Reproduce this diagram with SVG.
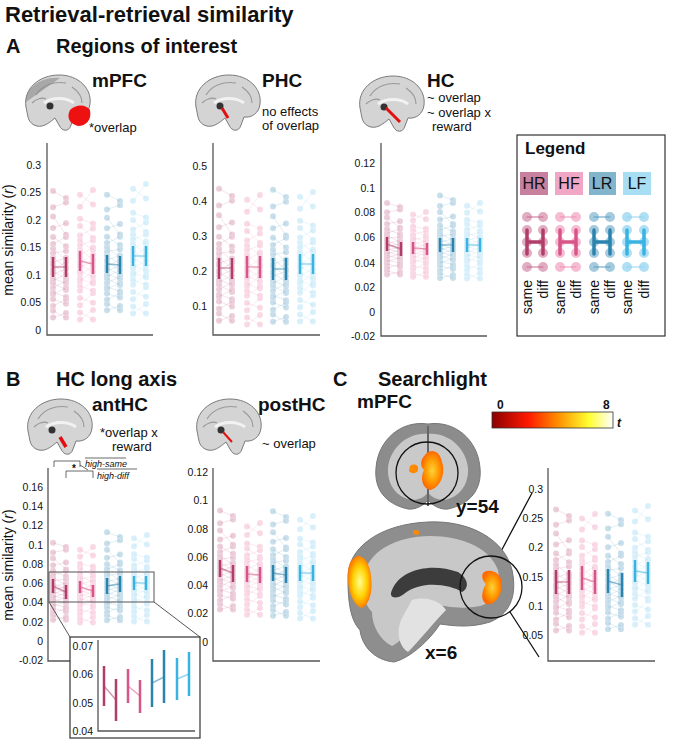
<svg xmlns="http://www.w3.org/2000/svg" xmlns:xlink="http://www.w3.org/1999/xlink" width="676" height="748" viewBox="0 0 676 748">
<style>
text{font-family:"Liberation Sans",Arial,sans-serif;fill:#111}
.h{font-weight:bold}
.tk{font-size:10.5px;fill:#444;text-anchor:end}
.ax{fill:none;stroke:#555;stroke-width:1.3}
.dt{fill:none;stroke:currentColor;stroke-width:6;stroke-linecap:round;stroke-opacity:.33;vector-effect:non-scaling-stroke}
.ln{fill:none;stroke:currentColor;stroke-width:.6;stroke-opacity:.3;vector-effect:non-scaling-stroke}
.eb{fill:none;stroke-width:2.5}
.cb{fill:none;stroke-width:1.4;stroke-opacity:.55}
.hr{color:#c86a91;stroke:#b03e69}.hf{color:#ee8fb4;stroke:#d8558a}.lr{color:#5b9ec2;stroke:#2a84ad}.lf{color:#8ed2f0;stroke:#39b4e2}
.br{fill:#d4d4d4;stroke:#7a7a7a;stroke-width:1}
.an{font-size:13px}
</style>
<defs>
<g id="pA"><path class="ln" d="M0-33L13-30M0-26L13-28M0-22L13-14M0-17L13-19M0-13L13-9M0-10L13-13M0-8L13-3M0-6L13-7M0-4L13 0M0-2L13-4M0-1L13 3M0 1L13-2M0 2L13 5M0 3L13 1M0 5L13 7M0 6L13 3M0 7L13 10M0 9L13 6M0 11L13 13M0 12L13 9M0 14L13 16M0 17L13 14M0 19L13 22M0 22L13 20"/><path class="dt" d="M0-33h0M13-30h0M0-26h0M13-28h0M0-22h0M13-14h0M0-17h0M13-19h0M0-13h0M13-9h0M0-10h0M13-13h0M0-8h0M13-3h0M0-6h0M13-7h0M0-4h0M13 0h0M0-2h0M13-4h0M0-1h0M13 3h0M0 1h0M13-2h0M0 2h0M13 5h0M0 3h0M13 1h0M0 5h0M13 7h0M0 6h0M13 3h0M0 7h0M13 10h0M0 9h0M13 6h0M0 11h0M13 13h0M0 12h0M13 9h0M0 14h0M13 16h0M0 17h0M13 14h0M0 19h0M13 22h0M0 22h0M13 20h0"/></g>
<g id="pB"><path class="ln" d="M0-28L13-24M0-23L13-30M0-18L13-16M0-15L13-10M0-11L13-14M0-9L13-5M0-7L13-9M0-5L13-1M0-3L13-6M0-2L13 2M0 0L13-3M0 1L13 4M0 2L13 0M0 4L13 6M0 5L13 2M0 7L13 9M0 8L13 4M0 10L13 12M0 12L13 8M0 15L13 17M0 18L13 13M0 21L13 24M0 24L13 20"/><path class="dt" d="M0-28h0M13-24h0M0-23h0M13-30h0M0-18h0M13-16h0M0-15h0M13-10h0M0-11h0M13-14h0M0-9h0M13-5h0M0-7h0M13-9h0M0-5h0M13-1h0M0-3h0M13-6h0M0-2h0M13 2h0M0 0h0M13-3h0M0 1h0M13 4h0M0 2h0M13 0h0M0 4h0M13 6h0M0 5h0M13 2h0M0 7h0M13 9h0M0 8h0M13 4h0M0 10h0M13 12h0M0 12h0M13 8h0M0 15h0M13 17h0M0 18h0M13 13h0M0 21h0M13 24h0M0 24h0M13 20h0"/></g>
<g id="brain"><path class="br" d="M4 34C1 16 17 2 37 2C57 2 70 16 68 31C67 40 60 45 52 44L49 52C47 59 40 59 37 52L33 45C27 50 20 56 12 52C5 48 6 42 4 34Z"/><path d="M14 22C20 12 32 8 44 10M10 30C14 26 20 24 24 26M50 14C56 18 60 24 60 30" fill="none" stroke="#999" stroke-width="1.2"/><path d="M22 30C30 24 44 24 52 30" fill="none" stroke="#f2f2f2" stroke-width="3"/><circle cx="28" cy="33" r="3.5" fill="#333"/></g>
<linearGradient id="hot" x1="0" x2="1"><stop offset="0" stop-color="#8b0000"/><stop offset=".3" stop-color="#ff1a00"/><stop offset=".55" stop-color="#ff9000"/><stop offset=".8" stop-color="#ffff30"/><stop offset="1" stop-color="#ffffff"/></linearGradient>
<radialGradient id="blob"><stop offset="0" stop-color="#ffd23a"/><stop offset=".6" stop-color="#ff9a00"/><stop offset="1" stop-color="#ff6a00"/></radialGradient>
<radialGradient id="blobY"><stop offset="0" stop-color="#ffff90"/><stop offset=".6" stop-color="#ffd000"/><stop offset="1" stop-color="#ff8000"/></radialGradient>
</defs>

<g id="titles">
<text x="5" y="22" class="h" font-size="22">Retrieval-retrieval similarity</text>
<text x="6" y="53" class="h" font-size="20">A</text><text x="56" y="53" class="h" font-size="20">Regions of interest</text>
<text x="6" y="386" class="h" font-size="20">B</text><text x="56" y="386" class="h" font-size="20">HC long axis</text>
<text x="333" y="386" class="h" font-size="20">C</text><text x="378" y="386" class="h" font-size="20">Searchlight</text>
</g>

<g id="roi-mPFC">
<use href="#brain" x="22" y="73"/>
<path d="M26 102C24 90 40 76 60 78" fill="#8a8a8a" opacity=".6"/>
<path d="M70 110C76 104 86 104 90 110C92 120 86 126 78 126C70 124 66 118 70 110Z" fill="#ee1111"/>
<text x="92" y="87" class="h" font-size="19">mPFC</text>
<text x="89" y="132" class="an">*overlap</text>
</g>
<g id="roi-PHC">
<use href="#brain" x="192" y="73"/>
<path d="M222 108L228 118" stroke="#e01010" stroke-width="3"/>
<text x="262" y="87" class="h" font-size="19">PHC</text>
<text x="262" y="116" class="an">no effects</text><text x="262" y="130" class="an">of overlap</text>
</g>
<g id="roi-HC">
<use href="#brain" x="356" y="74"/>
<path d="M386 108L400 122" stroke="#e01010" stroke-width="3"/>
<text x="427" y="87" class="h" font-size="19">HC</text>
<text x="427" y="102" class="an">~ overlap</text><text x="427" y="117" class="an">~ overlap x</text><text x="432" y="131" class="an">reward</text>
</g>

<g id="plot-A1">
<path class="ax" d="M47 143V335H153"/>
<g class="tk"><text x="41" y="169">0.3</text><text x="41" y="196">0.25</text><text x="41" y="224">0.2</text><text x="41" y="251">0.15</text><text x="41" y="279">0.1</text><text x="41" y="306">0.05</text><text x="41" y="334">0</text></g>
<use href="#pA" class="hr" transform="translate(53,267) scale(1,2.3)"/>
<use href="#pB" class="hf" transform="translate(80,262) scale(1,2.4)"/>
<use href="#pA" class="lr" transform="translate(107,264) scale(1,2.1)"/>
<use href="#pB" class="lf" transform="translate(133,256) scale(1,2.4)"/>
<path class="eb hr" d="M53 257V277M66 257V277"/><path class="cb hr" d="M53 267H66"/>
<path class="eb hf" d="M80 251V271M93 254V274"/><path class="cb hf" d="M80 261L93 264"/>
<path class="eb lr" d="M107 255V273M120 256V274"/><path class="cb lr" d="M107 264L120 265"/>
<path class="eb lf" d="M133 246V266M146 246V266"/><path class="cb lf" d="M133 256H146"/>
</g>
<text transform="translate(13,240) rotate(-90)" text-anchor="middle" font-size="14">mean similarity (<tspan font-style="italic">r</tspan>)</text>

<g id="plot-A2">
<path class="ax" d="M213 143V335H320"/>
<g class="tk"><text x="207" y="170">0.5</text><text x="207" y="205">0.4</text><text x="207" y="240">0.3</text><text x="207" y="275">0.2</text><text x="207" y="310">0.1</text></g>
<use href="#pA" class="hr" transform="translate(219,268) scale(1,2.4)"/>
<use href="#pB" class="hf" transform="translate(247,267) scale(1,2.4)"/>
<use href="#pA" class="lr" transform="translate(273,269) scale(1,2.4)"/>
<use href="#pB" class="lf" transform="translate(300,264) scale(1,2.4)"/>
<path class="eb hr" d="M219 258V279M232 258V279"/><path class="cb hr" d="M219 268H232"/>
<path class="eb hf" d="M247 256V278M260 256V278"/><path class="cb hf" d="M247 267H260"/>
<path class="eb lr" d="M273 258V280M286 258V280"/><path class="cb lr" d="M273 269H286"/>
<path class="eb lf" d="M300 254V274M313 254V274"/><path class="cb lf" d="M300 264H313"/>
</g>

<g id="plot-A3">
<path class="ax" d="M381 143V336H487"/>
<g class="tk"><text x="375" y="167">0.12</text><text x="375" y="192">0.1</text><text x="375" y="216">0.08</text><text x="375" y="241">0.06</text><text x="375" y="267">0.04</text><text x="375" y="291">0.02</text><text x="375" y="316">0</text><text x="375" y="340">-0.02</text></g>
<use href="#pA" class="hr" transform="translate(387,246) scale(1,1.3)"/>
<use href="#pB" class="hf" transform="translate(413,248) scale(1,1.2)"/>
<use href="#pA" class="lr" transform="translate(440,245) scale(1,1.5)"/>
<use href="#pB" class="lf" transform="translate(467,245) scale(1,1.4)"/>
<path class="eb hr" d="M387 237V251M401 242V256"/><path class="cb hr" d="M387 244L401 249"/>
<path class="eb hf" d="M413 242V254M427 243V255"/><path class="cb hf" d="M413 248L427 249"/>
<path class="eb lr" d="M440 238V252M453 238V252"/><path class="cb lr" d="M440 245H453"/>
<path class="eb lf" d="M467 238V252M480 238V252"/><path class="cb lf" d="M467 245H480"/>
</g>

<g id="legend">
<rect x="517" y="135" width="148" height="201" fill="#fff" stroke="#333" stroke-width="1.2"/>
<text x="525" y="154" class="h" font-size="17">Legend</text>
<rect x="520" y="172" width="28" height="23" fill="#c8809f"/><text x="534" y="189" text-anchor="middle" font-size="16">HR</text>
<rect x="555" y="172" width="28" height="23" fill="#f0a6c5"/><text x="569" y="189" text-anchor="middle" font-size="16">HF</text>
<rect x="589" y="172" width="27" height="23" fill="#82b4cb"/><text x="602" y="189" text-anchor="middle" font-size="16">LR</text>
<rect x="623" y="172" width="28" height="23" fill="#a8def4"/><text x="637" y="189" text-anchor="middle" font-size="16">LF</text>
<g stroke-linecap="round" fill="none">
<g class="hr"><path d="M527 217h0M543 217h0M527 230h0M543 230h0M527 242h0M543 242h0M527 253h0M543 253h0M527 267h0M543 267h0" stroke="#c86a91" stroke-opacity=".55" stroke-width="10"/><path d="M527 217H543M527 267H543" stroke="#c86a91" stroke-width="1"/><path d="M527 230V254M543 230V254M527 242H543" stroke-width="3.5"/></g>
<g class="hf"><path d="M560 217h0M576 217h0M560 230h0M576 230h0M560 242h0M576 242h0M560 253h0M576 253h0M560 267h0M576 267h0" stroke="#ee8fb4" stroke-opacity=".6" stroke-width="10"/><path d="M560 217H576M560 267H576" stroke="#ee8fb4" stroke-width="1"/><path d="M560 230V254M576 230V254M560 242H576" stroke-width="3.5"/></g>
<g class="lr"><path d="M594 217h0M610 217h0M594 230h0M610 230h0M594 242h0M610 242h0M594 253h0M610 253h0M594 267h0M610 267h0" stroke="#5b9ec2" stroke-opacity=".55" stroke-width="10"/><path d="M594 217H610M594 267H610" stroke="#5b9ec2" stroke-width="1"/><path d="M594 230V254M610 230V254M594 242H610" stroke-width="3.5"/></g>
<g class="lf"><path d="M627 217h0M644 217h0M627 230h0M644 230h0M627 242h0M644 242h0M627 253h0M644 253h0M627 267h0M644 267h0" stroke="#8ed2f0" stroke-opacity=".7" stroke-width="10"/><path d="M627 217H644M627 267H644" stroke="#8ed2f0" stroke-width="1"/><path d="M627 230V254M644 230V254M627 242H644" stroke-width="3.5"/></g>
</g>
<g font-size="14" text-anchor="end">
<text transform="translate(532,280) rotate(-90)">same</text><text transform="translate(548,280) rotate(-90)">diff</text>
<text transform="translate(565,280) rotate(-90)">same</text><text transform="translate(581,280) rotate(-90)">diff</text>
<text transform="translate(599,280) rotate(-90)">same</text><text transform="translate(615,280) rotate(-90)">diff</text>
<text transform="translate(632,280) rotate(-90)">same</text><text transform="translate(649,280) rotate(-90)">diff</text>
</g>
</g>

<g id="roi-antHC">
<use href="#brain" x="24" y="397"/>
<path d="M60 437L66 447" stroke="#e01010" stroke-width="3.5"/>
<text x="92" y="411" class="h" font-size="19">antHC</text>
<text x="100" y="437" class="an">*overlap x</text><text x="112" y="451" class="an">reward</text>
</g>
<g id="roi-postHC">
<use href="#brain" x="193" y="397"/>
<path d="M223 432L232 442" stroke="#e01010" stroke-width="2"/>
<text x="258" y="411" class="h" font-size="19">postHC</text>
<text x="262" y="448" class="an">~ overlap</text>
</g>

<g id="plot-B1">
<path class="ax" d="M48 468V661H70"/>
<g class="tk"><text x="43" y="491">0.16</text><text x="43" y="510">0.14</text><text x="43" y="529">0.12</text><text x="43" y="549">0.1</text><text x="43" y="568">0.08</text><text x="43" y="587">0.06</text><text x="43" y="606">0.04</text><text x="43" y="626">0.02</text><text x="43" y="645">0</text><text x="43" y="664">-0.02</text></g>
<use href="#pA" class="hr" transform="translate(53,589) scale(1,1.4)"/>
<use href="#pB" class="hf" transform="translate(80,589) scale(1,1.4)"/>
<use href="#pA" class="lr" transform="translate(107,585) scale(1,1.6)"/>
<use href="#pB" class="lf" transform="translate(134,583) scale(1,1.6)"/>
<path class="eb hr" d="M53 579V593M66 585V599"/><path class="cb hr" d="M53 586L66 592"/>
<path class="eb hf" d="M80 581V593M93 585V597"/><path class="cb hf" d="M80 587L93 591"/>
<path class="eb lr" d="M107 578V594M120 576V592"/><path class="cb lr" d="M107 586L120 584"/>
<path class="eb lf" d="M134 576V590M146 576V590"/><path class="cb lf" d="M134 583H146"/>
<g fill="none" stroke="#444" stroke-width=".8">
<path d="M54 467V461H80V467M66 478V471H93V478M80 465L88 470"/>
<path d="M85 458H126M97 469H137"/>
</g>
<text x="72" y="472" font-size="10" class="h">*</text>
<text x="85" y="467" font-size="9" font-style="italic">high-same</text>
<text x="97" y="479" font-size="9" font-style="italic">high-diff</text>
</g>
<text transform="translate(13,565) rotate(-90)" text-anchor="middle" font-size="14">mean similarity (<tspan font-style="italic">r</tspan>)</text>

<g id="plot-B2">
<path class="ax" d="M213 468V661H320"/>
<g class="tk"><text x="208" y="476">0.12</text><text x="208" y="504">0.1</text><text x="208" y="533">0.08</text><text x="208" y="561">0.06</text><text x="208" y="589">0.04</text><text x="208" y="617">0.02</text><text x="208" y="646">0</text></g>
<use href="#pA" class="hr" transform="translate(220,570) scale(1,1.8)"/>
<use href="#pB" class="hf" transform="translate(247,574) scale(1,1.7)"/>
<use href="#pA" class="lr" transform="translate(273,574) scale(1,1.9)"/>
<use href="#pB" class="lf" transform="translate(300,573) scale(1,1.9)"/>
<path class="eb hr" d="M220 560V577M233 565V582"/><path class="cb hr" d="M220 568L233 573"/>
<path class="eb hf" d="M247 566V582M260 567V583"/><path class="cb hf" d="M247 574L260 575"/>
<path class="eb lr" d="M273 565V581M286 567V583"/><path class="cb lr" d="M273 573L286 575"/>
<path class="eb lf" d="M300 565V581M313 565V581"/><path class="cb lf" d="M300 573H313"/>
</g>

<g id="connectors" fill="none" stroke="#333" stroke-width="1">
<rect x="49" y="572" width="105" height="30" stroke="#555"/>
<path d="M49 602L70 637M154 602L200 637" stroke="#555"/>
<path d="M498 557L532 493M510 612L539 657" stroke="#111" stroke-width="1.3"/>
</g>

<g id="inset">
<rect x="70" y="637" width="130" height="101" fill="#fff" stroke="#333" stroke-width="1.2"/>
<path class="ax" d="M98 640V731H195"/>
<g class="tk"><text x="93" y="650">0.07</text><text x="93" y="678">0.06</text><text x="93" y="707">0.05</text><text x="93" y="735">0.04</text></g>
<path class="cb hr" d="M104 686L116 700"/><path class="cb hf" d="M128 686L140 696"/><path class="cb lr" d="M152 683L164 677"/><path class="cb lf" d="M177 679L189 674"/>
<path class="eb hr" d="M104 666V706M116 679V721"/>
<path class="eb hf" d="M128 669V703M140 680V713"/>
<path class="eb lr" d="M152 659V707M164 650V703"/>
<path class="eb lf" d="M177 658V700M189 652V696"/>
</g>

<g id="searchlight">
<text x="357" y="408" class="h" font-size="19">mPFC</text>
<rect x="492" y="412" width="121" height="16" fill="url(#hot)" stroke="#333" stroke-width=".8"/>
<text x="497" y="409" class="h" font-size="12">0</text><text x="603" y="409" class="h" font-size="12">8</text>
<text x="617" y="427" class="h" font-size="12" font-style="italic">t</text>
<path d="M428 424C455 420 478 440 480 468C482 490 470 504 448 509C440 510 432 505 428 500C424 505 416 510 408 509C386 504 374 490 376 468C378 440 401 420 428 424Z" fill="#8c8c8c" stroke="#777"/>
<path d="M428 434C448 432 466 448 468 468C469 486 458 498 444 500C436 500 430 496 428 492C426 496 420 500 412 500C398 498 387 486 388 468C390 448 408 432 428 434Z" fill="#c9c9c9"/>
<path d="M428 426V506" stroke="#666" stroke-width="2"/>
<path d="M425 455C430 448 440 450 442 462C446 474 440 488 430 490C422 488 420 478 424 470C420 466 420 460 425 455Z" fill="url(#blob)"/>
<path d="M410 466C414 463 419 465 418 470C417 474 411 474 409 471Z" fill="#ff8a00"/>
<circle cx="427" cy="473" r="31" fill="none" stroke="#111" stroke-width="1.3"/>
<text x="456" y="513" class="h" font-size="19">y=54</text>
<path d="M348 580C346 548 380 524 428 522C470 520 505 540 512 570C518 598 508 615 490 622C470 628 455 626 440 624C430 640 410 658 394 662C374 660 362 646 360 630C350 620 348 600 348 580Z" fill="#8e8e8e" stroke="#777"/>
<path d="M364 578C366 552 396 536 430 536C462 536 490 548 498 570C502 590 494 602 480 606C460 610 445 606 432 604C420 620 404 640 392 646C380 640 372 626 372 612C364 604 362 592 364 578Z" fill="#c8c8c8"/>
<path d="M392 590C400 570 430 562 458 572C468 578 470 588 462 592C450 584 420 580 404 594C396 600 388 598 392 590Z" fill="#3c3c3c"/>
<path d="M412 600C424 596 440 600 446 610C436 620 420 640 408 652C398 646 396 630 402 618Z" fill="#e2e2e2"/>
<path d="M352 560C358 552 366 556 370 570C374 590 370 604 362 608C354 606 348 592 348 578C348 568 349 563 352 560Z" fill="url(#blobY)"/>
<path d="M484 572C492 568 502 574 502 584C502 596 494 606 486 604C480 600 482 590 486 584C482 580 481 575 484 572Z" fill="url(#blob)"/>
<path d="M413 531C416 529 420 530 419 534C417 536 413 535 413 531Z" fill="#ff8a00"/>
<circle cx="491" cy="587" r="31" fill="none" stroke="#111" stroke-width="1.3"/>
<text x="425" y="659" class="h" font-size="19">x=6</text>
</g>

<g id="plot-C">
<path class="ax" d="M548 468V661H655"/>
<g class="tk"><text x="543" y="493">0.3</text><text x="543" y="522">0.25</text><text x="543" y="551">0.2</text><text x="543" y="581">0.15</text><text x="543" y="610">0.1</text><text x="543" y="639">0.05</text></g>
<use href="#pA" class="hr" transform="translate(556,582) scale(1,2.2)"/>
<use href="#pB" class="hf" transform="translate(582,580) scale(1,2.2)"/>
<use href="#pA" class="lr" transform="translate(608,583) scale(1,2.1)"/>
<use href="#pB" class="lf" transform="translate(635,572) scale(1,2.2)"/>
<path class="eb hr" d="M556 570V594M569 570V594"/><path class="cb hr" d="M556 582H569"/>
<path class="eb hf" d="M582 566V590M595 570V594"/><path class="cb hf" d="M582 578L595 582"/>
<path class="eb lr" d="M608 569V593M622 573V597"/><path class="cb lr" d="M608 581L622 585"/>
<path class="eb lf" d="M635 560V582M648 562V584"/><path class="cb lf" d="M635 571L648 573"/>
</g>
</svg>
